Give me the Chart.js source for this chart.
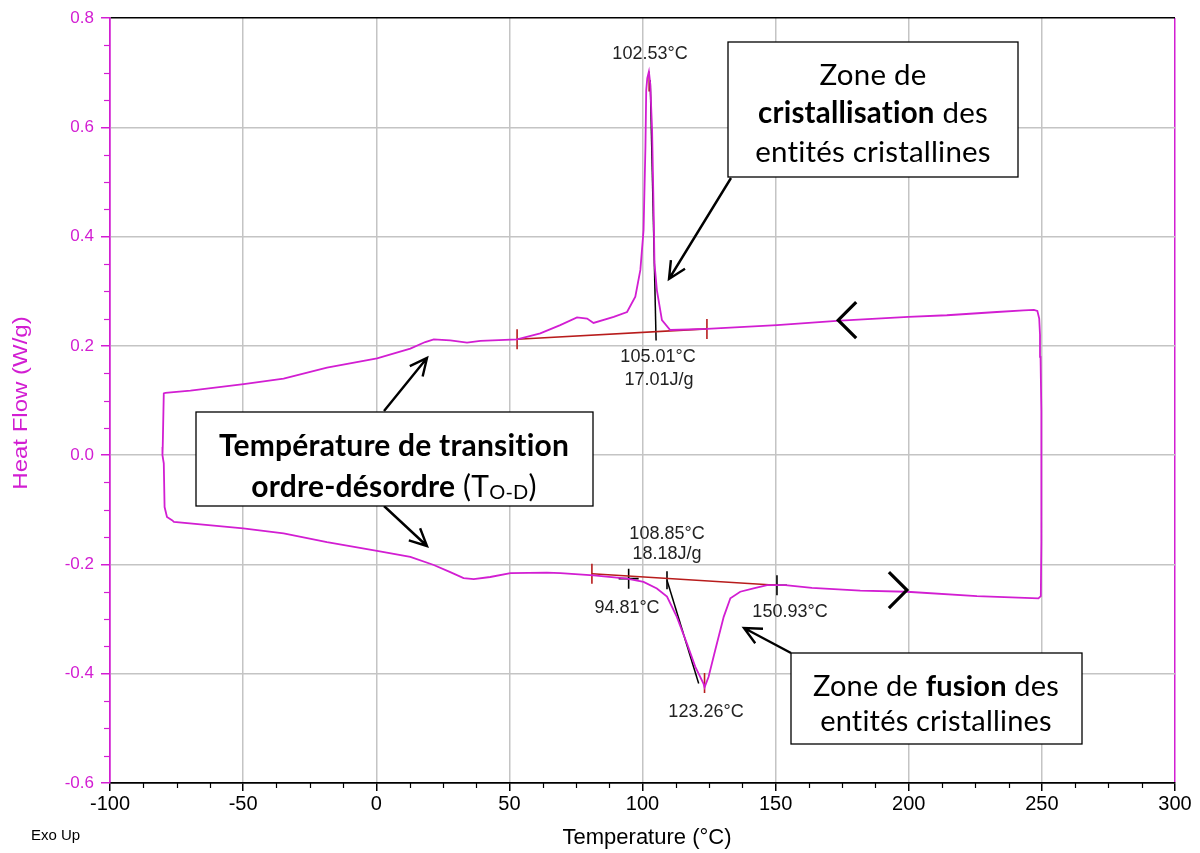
<!DOCTYPE html>
<html lang="fr">
<head>
<meta charset="utf-8">
<title>DSC – Heat Flow vs Temperature</title>
<script src="https://cdn.jsdelivr.net/npm/chart.js@4.4.1/dist/chart.umd.min.js"></script>
<style>
  html, body { margin: 0; padding: 0; background: #fff; }
  #wrap { position: relative; width: 1200px; height: 853px; }
</style>
</head>
<body>
<div id="wrap"><canvas id="dsc"></canvas></div>
<script>
// DSC thermogram: one closed loop (heating bottom, cooling top)
const tempC = [
  -76.7, -76.0, -50.0, -34.8, -18.5, 0.3, 12.8, 21.6, 27.8, 32.8, 36.6, 42.8, 50.4, 64.1, 69.2, 81.6,
  94.2, 100.4, 105.4, 109.2, 112.9, 116.7, 119.8, 122.9, 123.3, 124.8, 127.3, 130.5, 133.0, 136.7,
  141.7, 146.8, 150.5, 153.6, 163.6, 181.8, 199.3, 225.6, 248.7,
  249.6, 249.8, 249.8, 249.5, 249.3, 249.0, 248.3, 247.0,
  243.1, 233.1, 214.3, 199.9, 174.3, 150.5, 124.2, 110.4, 107.3, 105.4, 104.5, 104.2, 103.6, 102.9,
  102.4, 101.8, 101.4, 101.1, 100.4, 99.2, 97.3, 94.2, 89.2, 81.6, 79.2, 75.4, 69.1, 61.6, 52.9,
  39.1, 34.1, 27.8, 21.6, 18.4, 12.8, 0.3, -18.5, -34.8, -49.8, -69.8, -79.2, -79.8,
  -80.2, -80.3, -79.8, -79.5, -78.6, -76.7
];
const heatFlow = [
  -0.119, -0.122, -0.134, -0.143, -0.159, -0.175, -0.186, -0.201, -0.214, -0.225, -0.227, -0.223, -0.216, -0.215, -0.216, -0.220,
  -0.226, -0.232, -0.244, -0.259, -0.296, -0.345, -0.387, -0.418, -0.425, -0.406, -0.357, -0.296, -0.262, -0.250,
  -0.244, -0.238, -0.238, -0.238, -0.243, -0.248, -0.250, -0.258, -0.262,
  -0.258, -0.160, 0.080, 0.180, 0.220, 0.250, 0.264, 0.266,
  0.265, 0.262, 0.256, 0.253, 0.246, 0.238, 0.231, 0.229, 0.247, 0.302, 0.351, 0.442, 0.595, 0.680,
  0.702, 0.690, 0.668, 0.564, 0.412, 0.339, 0.290, 0.262, 0.253, 0.242, 0.250, 0.252, 0.238, 0.223, 0.212,
  0.209, 0.206, 0.210, 0.212, 0.207, 0.195, 0.177, 0.160, 0.140, 0.130, 0.118, 0.114, 0.113,
  0.015, 0.000, -0.015, -0.095, -0.113, -0.119
];

// integration baselines (red) and construction lines (black)
const crystBaseT  = [52.9, 124.2];
const crystBaseHF = [0.212, 0.231];
const meltBaseT   = [81.0, 150.5];
const meltBaseHF  = [-0.217, -0.238];
const crystLineT  = [102.9, 105.1];
const crystLineHF = [0.686, 0.210];
const meltLineT   = [109.2, 121.1];
const meltLineHF  = [-0.229, -0.418];

// marker positions: red ticks, black crosses, black ticks
const redTickT  = [52.9, 124.2, 102.5, 81.0, 123.3];
const redTickHF = [0.212, 0.231, 0.684, -0.217, -0.417];
const crossT    = [94.8, 150.5];
const crossHF   = [-0.226, -0.238];
const blackTickT  = [109.2];
const blackTickHF = [-0.229];

// direction chevrons on the loop
const chevronT  = [173.5, 199.3];
const chevronHF = [0.247, -0.247];
const chevronDir = ['left', 'right'];

const xTicks = [-100, -50, 0, 50, 100, 150, 200, 250, 300];
const yTicks = [0.8, 0.6, 0.4, 0.2, 0.0, -0.2, -0.4, -0.6];

const MAG = '#d21ed2';
const GRID = '#c4c4c4';
const RED = '#b81c1c';
const SANS = '"Liberation Sans", Arial, sans-serif';
const BOXF = 'Lato, "Open Sans", sans-serif';

const pts = (xs, ys) => xs.map((x, i) => ({ x, y: ys[i] }));

function lineSet(xs, ys, color, w) {
  return { data: pts(xs, ys), showLine: true, borderColor: color, borderWidth: w,
           pointRadius: 0, tension: 0, fill: false };
}
function markSet(xs, ys, style, color, r, rot) {
  return { data: pts(xs, ys), showLine: false, pointStyle: style, pointRadius: r,
           pointRotation: rot || 0, borderColor: color, backgroundColor: color, pointBorderWidth: 1.6 };
}

// helpers for the overlay drawing
function arrow(ctx, x0, y0, x1, y1) {
  const a = Math.atan2(y1 - y0, x1 - x0), L = 19, s = 0.45;
  ctx.beginPath();
  ctx.moveTo(x0, y0); ctx.lineTo(x1, y1);
  ctx.moveTo(x1 - L * Math.cos(a - s), y1 - L * Math.sin(a - s));
  ctx.lineTo(x1, y1);
  ctx.lineTo(x1 - L * Math.cos(a + s), y1 - L * Math.sin(a + s));
  ctx.stroke();
}

// draws a line made of [text, bold, size, dy] runs, centred on cx
function runs(ctx, parts, cx, y, size) {
  const fontOf = (p) => (p[1] ? 'bold ' : '') + (p[2] || size) + 'px ' + BOXF;
  if ('letterSpacing' in ctx) ctx.letterSpacing = '0.2px'; // no "ti" ligature
  let w = 0;
  parts.forEach(p => { ctx.font = fontOf(p); w += ctx.measureText(p[0]).width; });
  let x = cx - w / 2;
  ctx.textAlign = 'left';
  parts.forEach(p => {
    ctx.font = fontOf(p);
    ctx.fillText(p[0], x, y + (p[3] || 0));
    x += ctx.measureText(p[0]).width;
  });
  if ('letterSpacing' in ctx) ctx.letterSpacing = '0px';
}

function box(ctx, x, y, w, h) {
  ctx.fillStyle = '#fff';
  ctx.fillRect(x, y, w, h);
  ctx.strokeStyle = '#000';
  ctx.lineWidth = 1.3;
  ctx.strokeRect(x, y, w, h);
  ctx.fillStyle = '#000';
}

const overlay = {
  id: 'overlay',
  afterDraw(chart) {
    const { ctx, scales: { x, y }, chartArea: ca } = chart;
    ctx.save();

    // minor ticks
    ctx.lineWidth = 1.2;
    ctx.strokeStyle = '#000';
    for (let t = -100; t <= 300; t += 12.5) {
      if (t % 50 === 0) continue;
      const px = Math.round(x.getPixelForValue(t)) + 0.5;
      ctx.beginPath(); ctx.moveTo(px, ca.bottom); ctx.lineTo(px, ca.bottom + 5); ctx.stroke();
    }
    ctx.strokeStyle = MAG;
    for (let k = -12; k <= 16; k++) {
      if (k % 4 === 0) continue;
      const py = Math.round(y.getPixelForValue(k * 0.05)) + 0.5;
      ctx.beginPath(); ctx.moveTo(ca.left - 6, py); ctx.lineTo(ca.left, py); ctx.stroke();
    }

    // chevrons
    ctx.strokeStyle = '#000';
    ctx.lineWidth = 3.2;
    chevronT.forEach((t, i) => {
      const px = x.getPixelForValue(t), py = y.getPixelForValue(chevronHF[i]);
      const d = chevronDir[i] === 'left' ? 1 : -1;
      ctx.beginPath();
      ctx.moveTo(px + d * 18, py - 18); ctx.lineTo(px, py); ctx.lineTo(px + d * 18, py + 18);
      ctx.stroke();
    });

    // peak labels
    ctx.fillStyle = '#222';
    ctx.font = '18px ' + SANS;
    ctx.textAlign = 'center';
    ctx.textBaseline = 'middle';
    [['102.53°C', 650, 54], ['105.01°C', 658, 357], ['17.01J/g', 659, 380],
     ['108.85°C', 667, 534], ['18.18J/g', 667, 554], ['94.81°C', 627, 608],
     ['150.93°C', 790, 612], ['123.26°C', 706, 712]].forEach(l => ctx.fillText(l[0], l[1], l[2]));

    // callout arrows
    ctx.lineWidth = 2.4;
    ctx.strokeStyle = '#000';
    arrow(ctx, 731, 178, 669, 279);
    arrow(ctx, 384, 411, 427, 358);
    arrow(ctx, 384, 506, 427, 546);
    arrow(ctx, 791, 653, 744, 628);

    // callout boxes
    box(ctx, 728, 42, 290, 135);
    runs(ctx, [['Zone de', false]], 873, 75, 29.5);
    runs(ctx, [['cristallisation', true], [' des', false]], 873, 113, 29.5);
    runs(ctx, [['entités cristallines', false]], 873, 152, 29.5);

    box(ctx, 196, 412, 397, 94);
    runs(ctx, [['Température de transition', true]], 394, 446, 30);
    runs(ctx, [['ordre-désordre', true], [' (T', false], ['O-D', false, 20, 6], [')', false]], 394, 487, 30);

    box(ctx, 791, 653, 291, 91);
    runs(ctx, [['Zone de ', false], ['fusion', true], [' des', false]], 936, 687, 29);
    runs(ctx, [['entités cristallines', false]], 936, 722, 29);

    // axis titles
    ctx.fillStyle = '#000';
    ctx.font = '22px ' + SANS;
    ctx.textAlign = 'center';
    ctx.fillText('Temperature (°C)', 647, 838);
    ctx.font = '15px ' + SANS;
    ctx.textAlign = 'left';
    ctx.fillText('Exo Up', 31, 836);
    ctx.save();
    ctx.translate(21, 403);
    ctx.rotate(-Math.PI / 2);
    ctx.scale(1.2, 1);
    ctx.textAlign = 'center';
    ctx.fillStyle = MAG;
    ctx.font = '20px ' + SANS;
    ctx.fillText('Heat Flow (W/g)', 0, 0);
    ctx.restore();

    ctx.restore();
  }
};

new Chart(document.getElementById('dsc').getContext('2d'), {
  type: 'scatter',
  data: {
    datasets: [
      lineSet(tempC, heatFlow, MAG, 1.8),
      lineSet(crystBaseT, crystBaseHF, RED, 1.6),
      lineSet(meltBaseT, meltBaseHF, RED, 1.6),
      lineSet(crystLineT, crystLineHF, '#000', 1.5),
      lineSet(meltLineT, meltLineHF, '#000', 1.5),
      markSet(redTickT, redTickHF, 'line', RED, 10, 90),
      markSet(crossT, crossHF, 'cross', '#000', 10),
      markSet(blackTickT, blackTickHF, 'line', '#000', 9, 90),
    ],
  },
  options: {
    responsive: true, maintainAspectRatio: false, animation: false,
    layout: { padding: { left: 0, right: 25, top: 18, bottom: 0 } },
    plugins: { legend: { display: false }, tooltip: { enabled: false } },
    scales: {
      x: {
        type: 'linear', min: -100, max: 300,
        afterFit: (s) => { s.height = 70; },
        afterBuildTicks: (s) => { s.ticks = xTicks.map(v => ({ value: v })); },
        grid: {
          color: (c) => (c.tick && (c.tick.value === -100 || c.tick.value === 300)) ? MAG : GRID,
          lineWidth: 1.5, tickColor: '#000', tickLength: 8,
        },
        border: { color: '#000', width: 1.5 },
        ticks: { color: '#000', font: { family: SANS, size: 20 }, padding: 1, maxRotation: 0, autoSkip: false },
      },
      y: {
        type: 'linear', min: -0.6, max: 0.8,
        afterFit: (s) => { s.width = 110; },
        afterBuildTicks: (s) => { s.ticks = yTicks.map(v => ({ value: v })); },
        grid: {
          color: (c) => (c.tick && (c.tick.value === 0.8 || c.tick.value === -0.6)) ? '#000' : GRID,
          lineWidth: 1.5, tickColor: MAG, tickLength: 9,
        },
        border: { color: MAG, width: 1.5 },
        ticks: { color: MAG, font: { family: SANS, size: 17 }, padding: 7,
                 callback: (v) => Number(v).toFixed(1) },
      },
    },
  },
  plugins: [overlay],
});
</script>
</body>
</html>
